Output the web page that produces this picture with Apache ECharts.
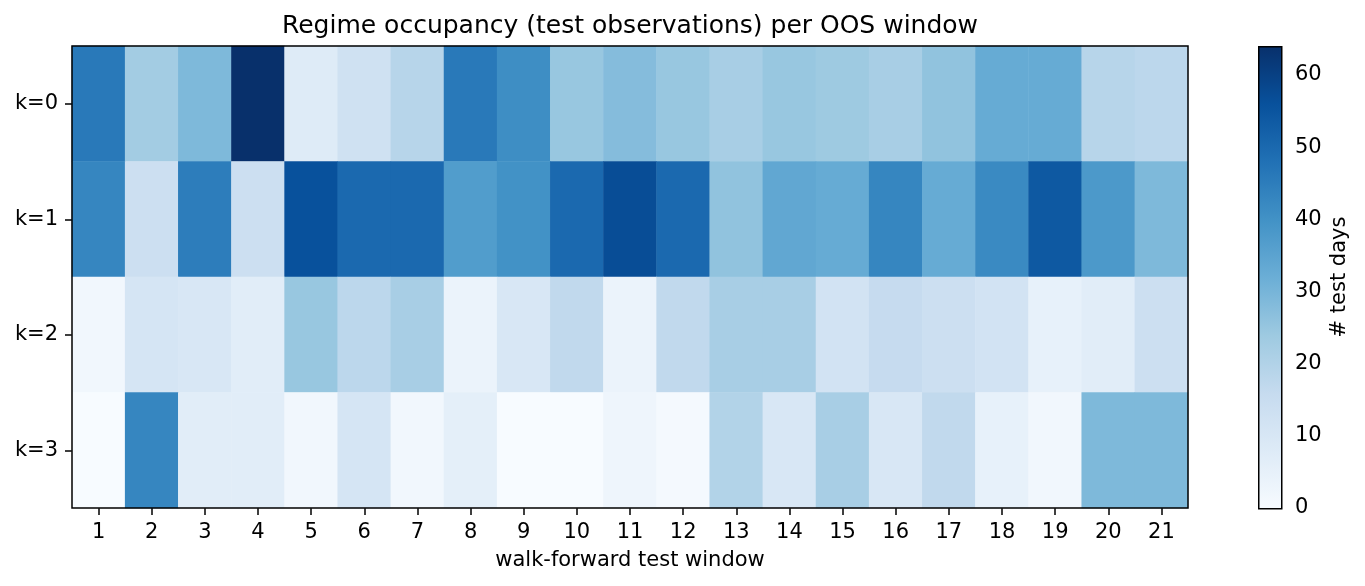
<!DOCTYPE html>
<html>
<head>
<meta charset="utf-8">
<title>Regime occupancy</title>
<script src="https://cdn.jsdelivr.net/npm/echarts@6.0.0/dist/echarts.min.js"></script>
<style>
  html, body { margin: 0; padding: 0; background: #fff; }
  #chart { width: 1365px; height: 586px; }
</style>
</head>
<body>
<div id="chart"></div>
<script>
'use strict';
// walk-forward windows on x, regimes on y
var windows = ['1','2','3','4','5','6','7','8','9','10','11','12','13','14','15','16','17','18','19','20','21'];
var regimes = ['k=0','k=1','k=2','k=3'];
// test days per regime
var k0Days = [46,23,29,64,8,13,19,46,41,25,28,25,22,25,24,22,26,33,33,19,18];
var k1Days = [43,14,45,14,56,50,50,37,40,50,57,50,26,34,33,43,33,42,54,38,29];
var k2Days = [2,11,10,7,25,18,22,4,10,17,4,17,22,22,12,16,14,12,5,7,14];
var k3Days = [0,43,7,7,2,11,2,6,0,0,3,1,20,10,22,10,17,5,2,29,29];
var colorbarMax = 64;
var colorbarTickMax = 60;
var blues = ['#f7fbff','#deebf7','#c6dbef','#9ecae1','#6baed6','#4292c6','#2171b5','#08519c','#08306b'];

var rows = [k0Days,k1Days,k2Days,k3Days];
var cells = [];
for (var r = 0; r < rows.length; r++) {
  for (var c = 0; c < windows.length; c++) {
    cells.push([c, r, rows[r][c]]);
  }
}

var font = 'DejaVu Sans';
var ink = '#000';

// colorbar box, the tick axis only runs up to 60 so no tick lands on the top edge
var cbLeft = 1258, cbWidth = 23, cbTop = 46, cbHeight = 462;
var tickTop = cbTop + cbHeight * (colorbarMax - colorbarTickMax) / colorbarMax;

// same ramp the visualMap uses, drawn bottom (0) to top (max)
var cbStops = blues.map(function (col, i) {
  return {offset: i / (blues.length - 1), color: col};
});

var myChart = echarts.init(document.getElementById('chart'), null, {renderer: 'canvas'});
var option = {
  animation: false,
  backgroundColor: '#fff',
  textStyle: {fontFamily: font, color: ink},
  title: {
    text: 'Regime occupancy (test observations) per OOS window',
    left: 630,
    textAlign: 'center',
    top: 14,
    padding: 0,
    textStyle: {fontFamily: font, fontSize: 25, fontWeight: 'normal', color: ink}
  },
  graphic: [{
    type: 'rect',
    left: cbLeft,
    top: cbTop,
    z: 1,
    shape: {x: 0, y: 0, width: cbWidth, height: cbHeight},
    style: {fill: new echarts.graphic.LinearGradient(0, 1, 0, 0, cbStops), stroke: ink, lineWidth: 1.5},
    silent: true
  }],
  grid: [
    {left: 72, top: 46, width: 1116, height: 462, show: true, borderColor: ink, borderWidth: 1.5, backgroundColor: 'transparent', z: 5},
    {left: cbLeft, top: cbTop, width: cbWidth, height: cbHeight, show: false},
    {left: cbLeft, top: tickTop, width: cbWidth, height: cbTop + cbHeight - tickTop, show: false}
  ],
  xAxis: [
    {
      type: 'category',
      data: windows,
      gridIndex: 0,
      axisLine: {show: false},
      axisTick: {show: true, alignWithLabel: true, length: 7, lineStyle: {color: ink, width: 1.5}},
      axisLabel: {margin: 14, fontSize: 21, color: ink, fontFamily: font},
      splitLine: {show: false},
      name: 'walk-forward test window',
      nameLocation: 'middle',
      nameGap: 42,
      nameTextStyle: {fontSize: 21, color: ink, fontFamily: font}
    },
    {type: 'value', gridIndex: 1, show: false, min: 0, max: 1},
    {type: 'value', gridIndex: 2, show: false, min: 0, max: 1}
  ],
  yAxis: [
    {
      type: 'category',
      data: regimes,
      inverse: true,
      gridIndex: 0,
      axisLine: {show: false},
      axisTick: {show: true, alignWithLabel: true, length: 7, lineStyle: {color: ink, width: 1.5}},
      axisLabel: {margin: 14, fontSize: 21, color: ink, fontFamily: font},
      splitLine: {show: false}
    },
    {
      type: 'value',
      gridIndex: 1,
      position: 'right',
      min: 0,
      max: colorbarMax,
      axisLine: {show: false},
      axisTick: {show: false},
      axisLabel: {show: false},
      splitLine: {show: false},
      name: '# test days',
      nameLocation: 'middle',
      nameRotate: 90,
      nameGap: 48,
      nameTextStyle: {fontSize: 21, color: ink, fontFamily: font}
    },
    {
      type: 'value',
      gridIndex: 2,
      position: 'right',
      min: 0,
      max: colorbarTickMax,
      interval: 10,
      axisLine: {show: false},
      axisTick: {show: true, length: 7, lineStyle: {color: ink, width: 1.5}},
      axisLabel: {margin: 14, fontSize: 21, color: ink, fontFamily: font},
      splitLine: {show: false}
    }
  ],
  visualMap: {
    type: 'continuous',
    show: false,
    seriesIndex: 0,
    min: 0,
    max: colorbarMax,
    inRange: {color: blues}
  },
  series: [
    {
      type: 'heatmap',
      xAxisIndex: 0,
      yAxisIndex: 0,
      data: cells,
      itemStyle: {borderWidth: 0},
      label: {show: false}
    }
  ]
};
myChart.setOption(option);
</script>
</body>
</html>
